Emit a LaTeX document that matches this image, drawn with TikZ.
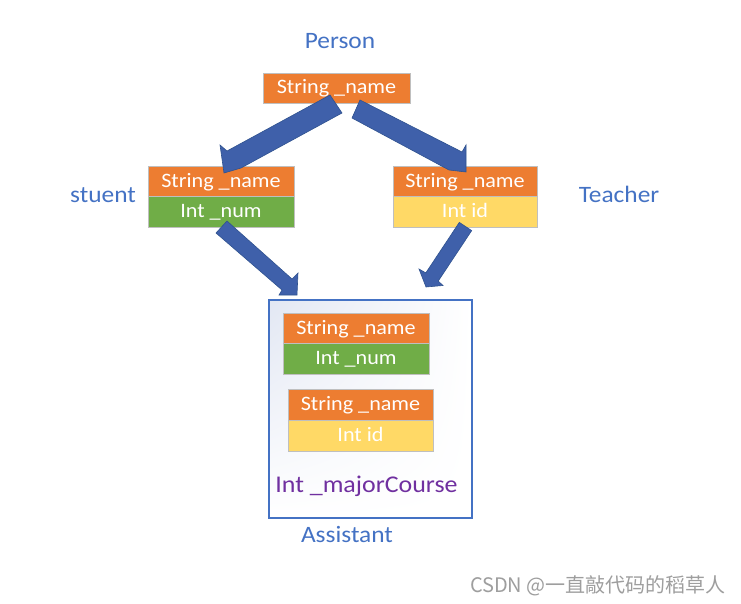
\documentclass[tikz,border=0pt]{standalone}
\usepackage{fontspec}
\usetikzlibrary{shadings}
\setmainfont{Carlito}[FakeStretch=1.08]
\newfontfamily\cjkfont{Noto Sans CJK SC}
\definecolor{orangebox}{RGB}{237,125,49}
\definecolor{greenbox}{RGB}{112,173,71}
\definecolor{yellowbox}{RGB}{255,217,102}
\definecolor{boxline}{RGB}{191,191,191}
\definecolor{labelblue}{RGB}{68,114,196}
\definecolor{arrowfill}{RGB}{63,96,170}
\definecolor{arrowline}{RGB}{47,82,143}
\definecolor{purpletext}{RGB}{112,48,160}
\definecolor{markgray}{RGB}{158,158,158}
\definecolor{shadeblue}{RGB}{226,231,243}
\begin{document}
\begin{tikzpicture}[x=1pt,y=-1pt,
  cell/.style={draw=boxline, line width=0.7pt, inner sep=0pt, text=white,
    font=\fontsize{20.5}{24}\selectfont, text height=16pt, text depth=4pt},
  lbl/.style={anchor=base, inner sep=0pt, text=labelblue, font=\fontsize{23.5}{28}\selectfont},
  blockarrow/.style={fill=arrowfill, draw=arrowline, line width=0.6pt, line join=miter}]
\useasboundingbox (0,0) rectangle (741,604);
\fill[white] (0,0) rectangle (741,604);

% Assistant container
\node[draw=labelblue, line width=1.5pt, inner sep=0pt, anchor=north west,
  minimum width=203pt, minimum height=218pt,
  upper left=shadeblue, upper right=white, lower left=white, lower right=white] (abox) at (268,299) {};

% Person
\node[cell, fill=orangebox, minimum width=147pt, minimum height=30pt] (p1) at (336.5,88) {String \_name};
% student
\node[cell, fill=orangebox, minimum width=146pt, minimum height=30pt] (s1) at (221,181) {String \_name};
\node[cell, fill=greenbox, minimum width=146pt, minimum height=31pt] (s2) at (221,211.5) {Int \_num};
% teacher
\node[cell, fill=orangebox, minimum width=144pt, minimum height=30pt] (t1) at (465,181) {String \_name};
\node[cell, fill=yellowbox, minimum width=144pt, minimum height=31pt] (t2) at (465,211.5) {Int id};
% assistant inner
\node[cell, fill=orangebox, minimum width=146pt, minimum height=30pt] (a1) at (356,328) {String \_name};
\node[cell, fill=greenbox, minimum width=146pt, minimum height=31pt] (a2) at (356,358.5) {Int \_num};
\node[cell, fill=orangebox, minimum width=145pt, minimum height=31pt] (b1) at (360.5,404.5) {String \_name};
\node[cell, fill=yellowbox, minimum width=145pt, minimum height=31pt] (b2) at (360.5,435.5) {Int id};
\node[anchor=base, inner sep=0pt, text=purpletext, font=\fontsize{24}{28}\selectfont] (major) at (366.5,492.5) {Int \_majorCourse};

% labels
\node[lbl] (lperson) at (340,49) {Person};
\node[lbl] (lstudent) at (103,203) {stuent};
\node[lbl] (lteacher) at (619,203) {Teacher};
\node[lbl] (lassist) at (347,542) {Assistant};

% block arrows
\draw[blockarrow] (330,95) -- (227,151) -- (220,145) -- (224,173) -- (241,168) -- (342,113) -- cycle;
\draw[blockarrow] (360,100) -- (462,152) -- (466,145) -- (466,172) -- (449,170) -- (352,118) -- cycle;
\draw[blockarrow] (227,221) -- (292,279) -- (298,273) -- (297,295) -- (279,295) -- (282,290) -- (216,233) -- cycle;
\draw[blockarrow] (459.3,222.4) -- (425.8,272.9) -- (419,269) -- (426,287) -- (443,285.5) -- (438.2,281.1) -- (471.7,230.6) -- cycle;

% watermark
\node[anchor=base east, inner sep=0pt, text=markgray, font=\cjkfont\fontsize{20}{22}\selectfont] (mark) at (726,592) {CSDN @一直敲代码的稻草人};
\end{tikzpicture}
\end{document}
